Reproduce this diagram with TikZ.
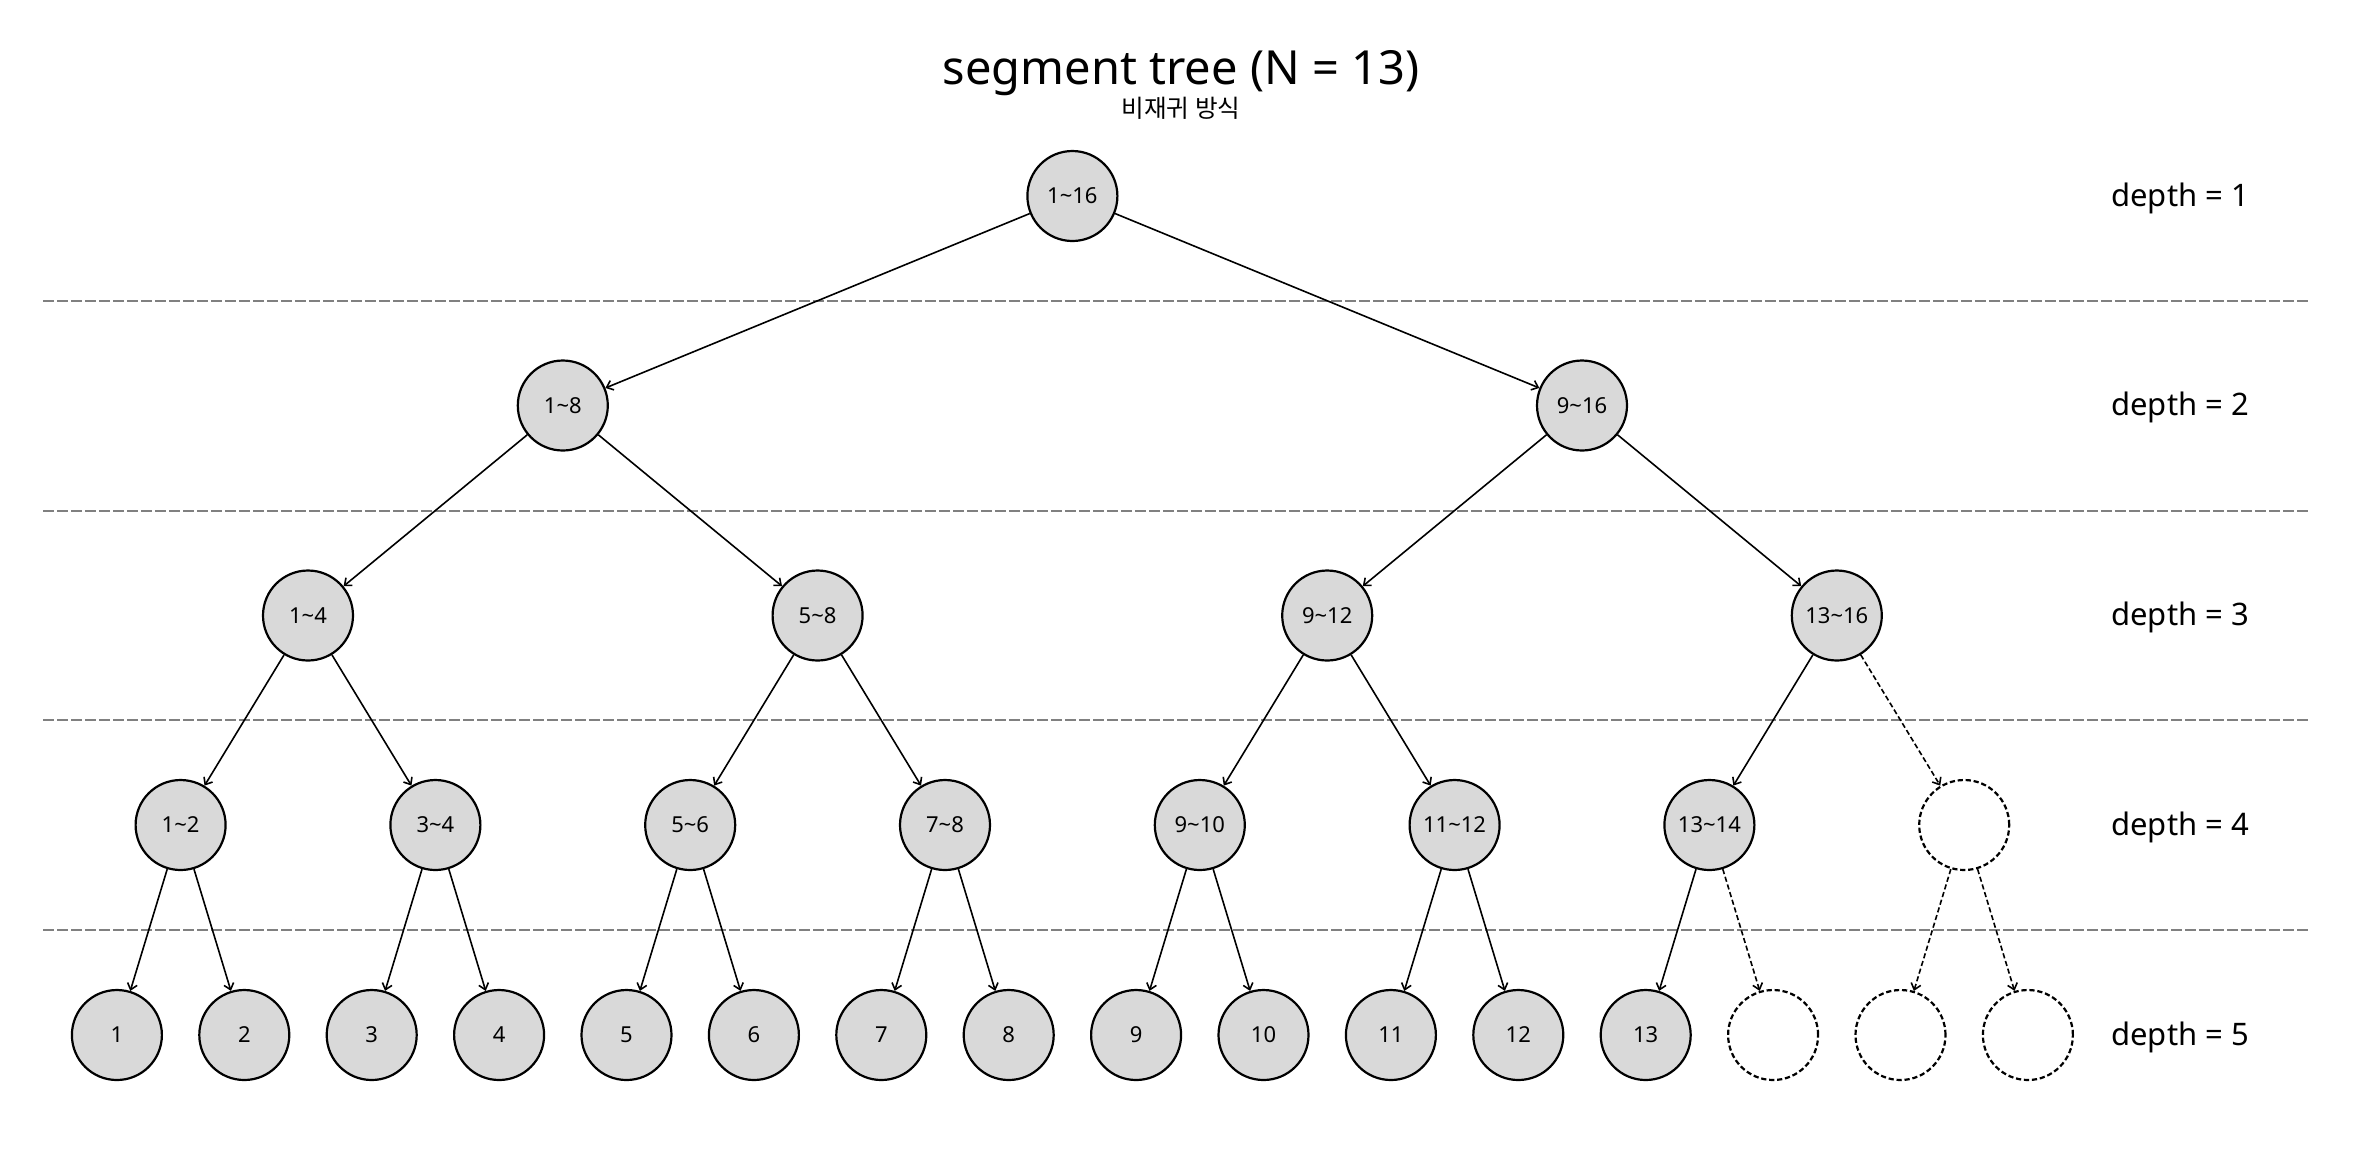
\documentclass[tikz,border=0pt]{standalone}
\usepackage{fontspec}
\setmainfont{Noto Sans}
\newfontfamily\krfont{Noto Sans CJK KR}
\usetikzlibrary{arrows.meta}
\definecolor{nodefill}{HTML}{D9D9D9}
\definecolor{sepgray}{HTML}{808080}
\tikzset{
  tnode/.style={circle, draw=black, line width=1.1pt, fill=nodefill, minimum size=45pt, inner sep=0pt, font=\fontsize{11}{13}\selectfont},
  enode/.style={circle, draw=black, line width=1.1pt, dash pattern=on 2.6pt off 1.4pt, fill=white, minimum size=45pt, inner sep=0pt},
  edge/.style={line width=0.8pt, -{Straight Barb[length=3pt,width=5pt]}},
  dedge/.style={edge, dash pattern=on 2.6pt off 1.4pt},
  sep/.style={sepgray, line width=1pt, dash pattern=on 5.3pt off 1.7pt},
  depthlbl/.style={anchor=base west, inner sep=0pt, font=\fontsize{15.5}{18}\selectfont},
}
\begin{document}
\begin{tikzpicture}[x=0.5pt, y=-0.5pt]
\useasboundingbox (0,0) rectangle (2362,1148);
% title
\node[anchor=base, inner sep=0pt, font=\fontsize{23.5}{28}\selectfont] (title) at (1181,84) {segment tree (N = 13)};
\node[anchor=base, inner sep=0pt, font=\krfont\fontsize{12.3}{15}\selectfont] (subtitle) at (1181,117) {비재귀 방식};
% separators
\foreach \y in {301, 510.5, 720, 930} { \draw[sep] (43.3,\y) -- (2310,\y); }
% depth labels
\node[depthlbl] (d1) at (2111,206) {depth = 1};
\node[depthlbl] (d2) at (2111,415.5) {depth = 2};
\node[depthlbl] (d3) at (2111,625.5) {depth = 3};
\node[depthlbl] (d4) at (2111,835) {depth = 4};
\node[depthlbl] (d5) at (2111,1045) {depth = 5};
% depth 1
\node[tnode] (n1) at (1072.4,196) {1\textasciitilde16};
% depth 2
\node[tnode] (n2) at (562.8,405.5) {1\textasciitilde8};
\node[tnode] (n3) at (1582.0,405.5) {9\textasciitilde16};
% depth 3
\node[tnode] (n4) at (308.0,615.5) {1\textasciitilde4};
\node[tnode] (n5) at (817.6,615.5) {5\textasciitilde8};
\node[tnode] (n6) at (1327.2,615.5) {9\textasciitilde12};
\node[tnode] (n7) at (1836.8,615.5) {13\textasciitilde16};
% depth 4
\node[tnode] (n8) at (180.6,825) {1\textasciitilde2};
\node[tnode] (n9) at (435.4,825) {3\textasciitilde4};
\node[tnode] (n10) at (690.2,825) {5\textasciitilde6};
\node[tnode] (n11) at (945.0,825) {7\textasciitilde8};
\node[tnode] (n12) at (1199.8,825) {9\textasciitilde10};
\node[tnode] (n13) at (1454.6,825) {11\textasciitilde12};
\node[tnode] (n14) at (1709.4,825) {13\textasciitilde14};
\node[enode] (n15) at (1964.2,825) {};
% depth 5
\node[tnode] (n16) at (116.9,1035) {1};
\node[tnode] (n17) at (244.3,1035) {2};
\node[tnode] (n18) at (371.7,1035) {3};
\node[tnode] (n19) at (499.1,1035) {4};
\node[tnode] (n20) at (626.5,1035) {5};
\node[tnode] (n21) at (753.9,1035) {6};
\node[tnode] (n22) at (881.3,1035) {7};
\node[tnode] (n23) at (1008.7,1035) {8};
\node[tnode] (n24) at (1136.1,1035) {9};
\node[tnode] (n25) at (1263.5,1035) {10};
\node[tnode] (n26) at (1390.9,1035) {11};
\node[tnode] (n27) at (1518.3,1035) {12};
\node[tnode] (n28) at (1645.7,1035) {13};
\node[enode] (n29) at (1773.1,1035) {};
\node[enode] (n30) at (1900.5,1035) {};
\node[enode] (n31) at (2027.9,1035) {};
% edges
\draw[edge] (n1) -- (n2);
\draw[edge] (n1) -- (n3);
\draw[edge] (n2) -- (n4);
\draw[edge] (n2) -- (n5);
\draw[edge] (n3) -- (n6);
\draw[edge] (n3) -- (n7);
\draw[edge] (n4) -- (n8);
\draw[edge] (n4) -- (n9);
\draw[edge] (n5) -- (n10);
\draw[edge] (n5) -- (n11);
\draw[edge] (n6) -- (n12);
\draw[edge] (n6) -- (n13);
\draw[edge] (n7) -- (n14);
\draw[dedge] (n7) -- (n15);
\draw[edge] (n8) -- (n16);
\draw[edge] (n8) -- (n17);
\draw[edge] (n9) -- (n18);
\draw[edge] (n9) -- (n19);
\draw[edge] (n10) -- (n20);
\draw[edge] (n10) -- (n21);
\draw[edge] (n11) -- (n22);
\draw[edge] (n11) -- (n23);
\draw[edge] (n12) -- (n24);
\draw[edge] (n12) -- (n25);
\draw[edge] (n13) -- (n26);
\draw[edge] (n13) -- (n27);
\draw[edge] (n14) -- (n28);
\draw[dedge] (n14) -- (n29);
\draw[dedge] (n15) -- (n30);
\draw[dedge] (n15) -- (n31);
\end{tikzpicture}
\end{document}
